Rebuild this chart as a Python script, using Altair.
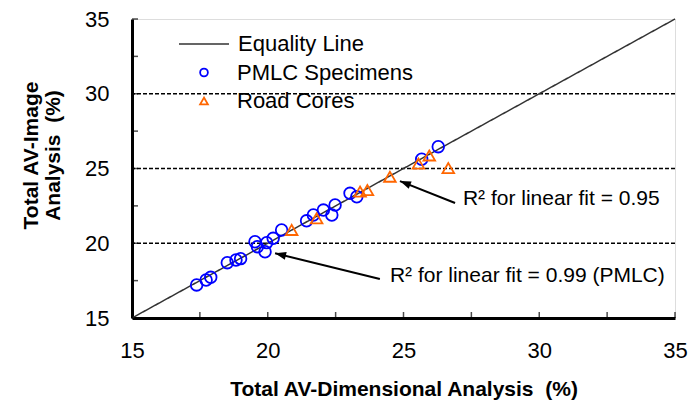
import altair as alt
import pandas as pd
import numpy as np

# ---------------- data ----------------
pmlc_x = [17.38, 17.73, 17.90, 18.51, 18.83, 19.00, 19.53, 19.62, 19.90, 19.96, 20.20,
          20.51, 21.43, 21.68, 22.05, 22.36, 22.48, 23.03, 23.28, 25.67, 26.28]
pmlc_y = [17.21, 17.54, 17.72, 18.70, 18.88, 18.97, 20.10, 19.77, 19.43, 20.04, 20.33,
          20.89, 21.50, 21.89, 22.22, 21.89, 22.56, 23.34, 23.11, 25.62, 26.46]
road_x = [20.88, 21.80, 23.40, 23.67, 24.50, 25.55, 25.95, 26.65]
road_y = [20.89, 21.67, 23.45, 23.56, 24.45, 25.33, 25.87, 25.03]

equality = [15, 35]
grid_vals = [20, 25, 30]
major_ticks = [15, 20, 25, 30, 35]
minor_ticks = [15, 17.5, 20, 22.5, 25, 27.5, 30, 32.5, 35]

series_names = ["PMLC Specimens", "Road Cores"]
line_name = "Equality Line"

ann_text = ["R\u00b2 for linear fit = 0.95", "R\u00b2 for linear fit = 0.99 (PMLC)"]
ann_x = [27.19, 24.50]
ann_y = [22.96, 17.81]
arrow_tail_x = [26.90, 24.13]
arrow_tail_y = [22.69, 17.61]
arrow_tip_x = [24.87, 20.27]
arrow_tip_y = [24.16, 19.33]

x_title = "Total AV-Dimensional Analysis \u00a0(%)"
y_title = ["Total AV-Image", "Analysis \u00a0(%)"]

# ---------------- layout ----------------
W, H = 543, 299
FONT = "Liberation Sans"

pts = pd.DataFrame({
    "x": pmlc_x + road_x,
    "y": pmlc_y + road_y,
    "series": [series_names[0]] * len(pmlc_x) + [series_names[1]] * len(road_x),
})
eq_df = pd.DataFrame({"x": equality, "y": equality, "line": [line_name] * 2})
grid_df = pd.DataFrame({"y": grid_vals})
xt_df = pd.DataFrame({"x": minor_ticks})
yt_df = pd.DataFrame({"y": minor_ticks})
ann_df = pd.DataFrame({"x": ann_x, "y": ann_y, "t": ann_text})

dx = (np.array(arrow_tip_x) - np.array(arrow_tail_x)) * W / 20.0
dy = -(np.array(arrow_tip_y) - np.array(arrow_tail_y)) * H / 20.0
angles = np.degrees(np.arctan2(dx, -dy)) % 360
arr_df = pd.DataFrame({"x": arrow_tail_x, "y": arrow_tail_y,
                       "x2": arrow_tip_x, "y2": arrow_tip_y})
head_df = pd.DataFrame({"x": arrow_tip_x, "y": arrow_tip_y, "ang": angles})

xs = alt.Scale(domain=[15, 35], nice=False, zero=False)
ys = alt.Scale(domain=[15, 35], nice=False, zero=False)

x_axis = alt.Axis(values=major_ticks, ticks=False, grid=False, domainColor="black",
                  domainWidth=3, labelFontSize=22, labelPadding=22, labelColor="black",
                  labelFont=FONT, labelFlush=False,
                  title=x_title, titleFontSize=21, titleFontWeight="bold", titleColor="black",
                  titleFont=FONT, titleY=60, titleBaseline="top")
y_axis = alt.Axis(values=major_ticks, ticks=False, grid=False, domainColor="black",
                  domainWidth=3, labelFontSize=22, labelPadding=23, labelColor="black",
                  labelFont=FONT, labelFlush=False,
                  title=y_title, titleFontSize=21, titleFontWeight="bold", titleColor="black",
                  titleFont=FONT, titleAngle=270, titleX=-112, titleY=136,
                  titleAlign="center", titleBaseline="top", titleLineHeight=22)

X = alt.X("x:Q", scale=xs, axis=x_axis)
Y = alt.Y("y:Q", scale=ys, axis=y_axis)

grid = alt.Chart(grid_df).mark_rule(color="black", strokeWidth=1.3, strokeDash=[4, 2]).encode(y=Y)

eq_line = alt.Chart(eq_df).mark_line(color="#333333", strokeWidth=1.5).encode(
    x=X, y=Y,
    strokeDash=alt.StrokeDash("line:N", scale=alt.Scale(domain=[line_name], range=[[1, 0]]),
                              legend=alt.Legend(orient="none", legendX=46, legendY=-1, padding=0,
                                                title=None, symbolType="stroke", symbolSize=2500,
                                                symbolStrokeColor="#333333", symbolStrokeWidth=1.5,
                                                labelFontSize=22, labelFont=FONT, labelColor="black",
                                                labelOffset=8, labelLimit=400)),
)

pt_legend = alt.Legend(orient="none", legendX=61, legendY=42.5, padding=0, title=None,
                       symbolSize=60, symbolStrokeWidth=1.8, labelFontSize=22, labelFont=FONT,
                       labelColor="black", labelOffset=22, rowPadding=6.5, labelLimit=400)
points = alt.Chart(pts).mark_point(filled=False, size=135, strokeWidth=1.8, opacity=1).encode(
    x=X, y=Y,
    color=alt.Color("series:N", scale=alt.Scale(domain=series_names, range=["#0000ff", "#ff6600"]),
                    legend=pt_legend),
    shape=alt.Shape("series:N", scale=alt.Scale(domain=series_names, range=["circle", "triangle-up"]),
                    legend=pt_legend),
)

arrows = alt.Chart(arr_df).mark_rule(color="black", strokeWidth=2).encode(
    x=X, y=Y, x2="x2:Q", y2="y2:Q")
heads = alt.Chart(head_df).mark_point(shape="M0,0L0.36,1L-0.36,1Z", filled=True, size=484,
                                      color="black", opacity=1).encode(
    x=X, y=Y, angle=alt.Angle("ang:Q", scale=None))

texts = alt.Chart(ann_df).mark_text(align="left", baseline="middle", fontSize=21, font=FONT,
                                    color="black").encode(x=X, y=Y, text="t:N")

xticks = alt.Chart(xt_df).mark_tick(orient="vertical", color="black", thickness=1.5, size=6).encode(
    x=X, y=alt.value(H - 3))
yticks = alt.Chart(yt_df).mark_tick(orient="horizontal", color="black", thickness=1.5, size=6).encode(
    y=Y, x=alt.value(3))

chart = alt.layer(grid, eq_line, points, arrows, heads, texts, xticks, yticks).properties(
    width=W, height=H,
    padding={"left": 132, "top": 19, "right": 14, "bottom": 89},
    autosize=alt.AutoSizeParams(type="none"),
    background="white",
).configure_view(stroke="#888888", strokeWidth=1.5).configure(font=FONT)

chart.save("out.html", embed_options={"renderer": "svg", "actions": False})
